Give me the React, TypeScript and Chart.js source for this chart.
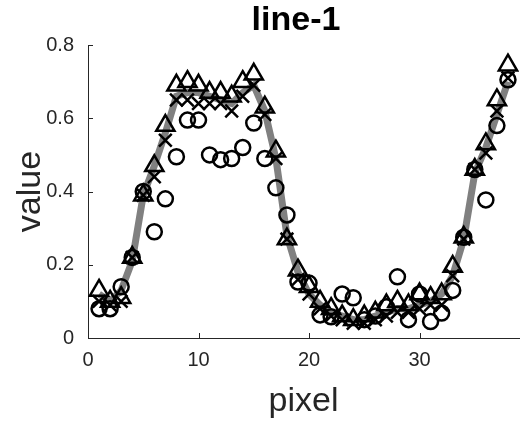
import { useEffect, useRef } from "react";
import { Chart, registerables } from "chart.js";

Chart.register(...registerables);

const pixels = [1, 2, 3, 4, 5, 6, 7, 8, 9, 10, 11, 12, 13, 14, 15, 16, 17, 18, 19, 20, 21, 22, 23, 24, 25, 26, 27, 28, 29, 30, 31, 32, 33, 34, 35, 36, 37, 38];
const lineValues = [0.12, 0.1, 0.13, 0.21, 0.39, 0.47, 0.56, 0.66, 0.67, 0.67, 0.66, 0.65, 0.64, 0.67, 0.69, 0.62, 0.49, 0.28, 0.18, 0.12, 0.09, 0.07, 0.06, 0.05, 0.05, 0.06, 0.07, 0.08, 0.08, 0.09, 0.1, 0.12, 0.17, 0.27, 0.45, 0.52, 0.61, 0.7];
const triangleValues = [0.13, 0.1, 0.11, 0.22, 0.39, 0.47, 0.58, 0.69, 0.7, 0.69, 0.67, 0.67, 0.66, 0.7, 0.72, 0.63, 0.51, 0.27, 0.185, 0.14, 0.1, 0.08, 0.06, 0.05, 0.06, 0.07, 0.09, 0.1, 0.09, 0.12, 0.11, 0.12, 0.195, 0.275, 0.46, 0.53, 0.65, 0.745];
const crossValues = [0.1, 0.09, 0.1, 0.22, 0.39, 0.44, 0.54, 0.65, 0.65, 0.64, 0.64, 0.64, 0.62, 0.66, 0.69, 0.61, 0.49, 0.27, 0.16, 0.12, 0.08, 0.06, 0.05, 0.04, 0.04, 0.05, 0.06, 0.07, 0.07, 0.08, 0.09, 0.09, 0.17, 0.27, 0.46, 0.505, 0.62, 0.71];
const circleValues = [0.08, 0.08, 0.14, 0.22, 0.4, 0.29, 0.38, 0.495, 0.595, 0.595, 0.5, 0.487, 0.49, 0.52, 0.587, 0.49, 0.41, 0.336, 0.153, 0.15, 0.063, 0.058, 0.12, 0.11, 0.05, 0.06, 0.085, 0.167, 0.05, 0.12, 0.045, 0.068, 0.13, 0.275, 0.46, 0.377, 0.58, 0.705];

const xTicks = [0, 10, 20, 30];
const yTicks = [0, 0.2, 0.4, 0.6, 0.8];
const titleText = "line-1";
const xLabel = "pixel";
const yLabel = "value";

const AXIS = "#262626";
const FONT = "'Liberation Sans', Arial, Helvetica, sans-serif";

const toPoints = (vals: number[]) => pixels.map((p, i) => ({ x: p, y: vals[i] }));

const innerTicks = {
  id: "innerTicks",
  afterDraw(chart: any) {
    const { ctx, chartArea, scales } = chart;
    const x = scales.x;
    const y = scales.y;
    ctx.save();
    ctx.strokeStyle = AXIS;
    ctx.lineWidth = 1;
    xTicks.forEach((v) => {
      const px = Math.round(x.getPixelForValue(v)) + 0.5;
      ctx.beginPath();
      ctx.moveTo(px, chartArea.bottom);
      ctx.lineTo(px, chartArea.bottom - 5);
      ctx.stroke();
    });
    yTicks.forEach((v) => {
      const py = Math.round(y.getPixelForValue(v)) + 0.5;
      ctx.beginPath();
      ctx.moveTo(chartArea.left, py);
      ctx.lineTo(chartArea.left + 5, py);
      ctx.stroke();
    });
    ctx.restore();
  },
};

const titlePlugin = {
  id: "axesTitle",
  afterDraw(chart: any) {
    const { ctx } = chart;
    ctx.save();
    ctx.fillStyle = "#000";
    ctx.font = `bold 34px ${FONT}`;
    ctx.textAlign = "center";
    ctx.textBaseline = "middle";
    ctx.fillText(titleText, 296, 21);
    ctx.restore();
  },
};

export default function App() {
  const ref = useRef<HTMLCanvasElement | null>(null);

  useEffect(() => {
    if (!ref.current) return;
    const chart = new Chart(ref.current, {
      type: "scatter",
      data: {
        datasets: [
          {
            label: "triangles",
            data: toPoints(triangleValues),
            pointStyle: "triangle",
            pointRadius: 10.5,
            pointBorderWidth: 2.5,
            borderColor: "#000",
            backgroundColor: "rgba(0,0,0,0)",
            order: 1,
          },
          {
            label: "crosses",
            data: toPoints(crossValues),
            pointStyle: "crossRot",
            pointRadius: 9,
            pointBorderWidth: 2.5,
            borderColor: "#000",
            backgroundColor: "rgba(0,0,0,0)",
            order: 2,
          },
          {
            label: "circles",
            data: toPoints(circleValues),
            pointStyle: "circle",
            pointRadius: 7.5,
            pointBorderWidth: 2.5,
            borderColor: "#000",
            backgroundColor: "rgba(0,0,0,0)",
            order: 3,
          },
          {
            type: "line",
            label: "line",
            data: toPoints(lineValues),
            borderColor: "#808080",
            borderWidth: 7,
            pointRadius: 0,
            tension: 0,
            fill: false,
            order: 10,
          } as any,
        ],
      },
      options: {
        animation: false,
        responsive: false,
        devicePixelRatio: 1,
        layout: { padding: { top: 45, right: 2, left: 0, bottom: 0 } },
        plugins: {
          legend: { display: false },
          tooltip: { enabled: false },
          title: { display: false },
        },
        scales: {
          x: {
            type: "linear",
            min: 0,
            max: 39,
            afterFit: (s: any) => {
              s.height = 84;
            },
            afterBuildTicks: (s: any) => {
              s.ticks = xTicks.map((v) => ({ value: v }));
            },
            grid: { display: false, drawTicks: false },
            border: { display: true, color: AXIS, width: 1 },
            ticks: {
              padding: 10,
              color: AXIS,
              font: { family: FONT, size: 20 },
              callback: (v: any) => String(v),
            },
            title: {
              display: true,
              text: xLabel,
              color: AXIS,
              font: { family: FONT, size: 34 },
              padding: { top: 0, bottom: 0 },
            },
          },
          y: {
            type: "linear",
            min: 0,
            max: 0.8,
            afterFit: (s: any) => {
              s.width = 88;
            },
            afterBuildTicks: (s: any) => {
              s.ticks = yTicks.map((v) => ({ value: v }));
            },
            grid: { display: false, drawTicks: false },
            border: { display: true, color: AXIS, width: 1 },
            ticks: {
              padding: 14,
              color: AXIS,
              font: { family: FONT, size: 20 },
              callback: (v: any) => String(Math.round(Number(v) * 10) / 10),
            },
            title: {
              display: true,
              text: yLabel,
              color: AXIS,
              font: { family: FONT, size: 34 },
              padding: { top: 10, bottom: 0 },
            },
          },
        },
      },
      plugins: [innerTicks, titlePlugin],
    });
    return () => chart.destroy();
  }, []);

  return (
    <div style={{ position: "absolute", left: 0, top: 0, width: 532, height: 422, background: "#fff" }}>
      <canvas ref={ref} width={532} height={422} style={{ display: "block", width: 532, height: 422 }} />
    </div>
  );
}
